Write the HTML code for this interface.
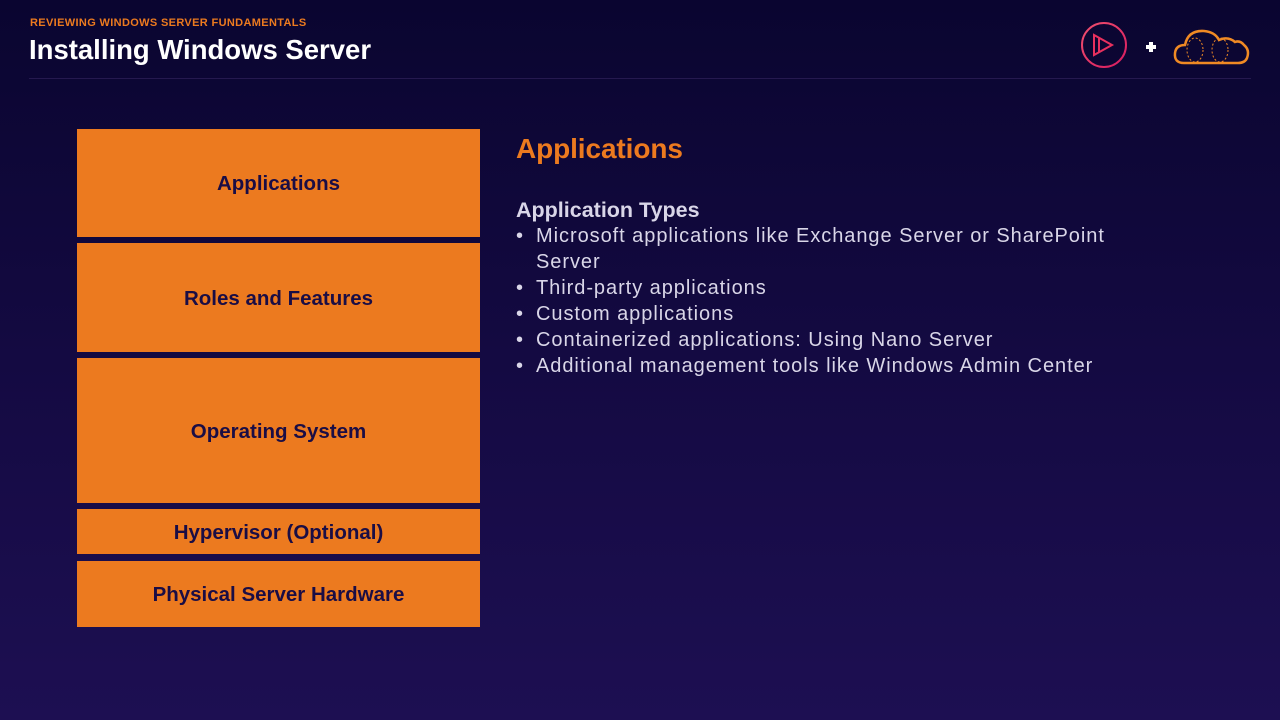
<!DOCTYPE html>
<html><head><style>
body{margin:0;width:1280px;height:720px;overflow:hidden;background:linear-gradient(180deg,#0a0530 0%,#140a42 50%,#1d0f52 100%);font-family:"Liberation Sans",sans-serif;position:relative}
.b{position:absolute;left:77px;width:403px;background:#ec7a1f;color:#1a0d45;font-weight:bold;font-size:20.5px;display:flex;align-items:center;justify-content:center;padding-top:2px;box-sizing:border-box}
.t{position:absolute;color:#d9d6e8;font-size:20px;letter-spacing:0.95px;white-space:nowrap}
</style></head><body>
<div style="position:absolute;left:30px;top:17px;color:#ec7a1f;font-size:11px;font-weight:bold;letter-spacing:0.35px">REVIEWING WINDOWS SERVER FUNDAMENTALS</div>
<div style="position:absolute;left:29px;top:34px;color:#fff;font-size:27.5px;font-weight:bold;letter-spacing:0px">Installing Windows Server</div>
<div style="position:absolute;left:29px;top:78px;width:1222px;height:1px;background:#25194f"></div>
<svg style="position:absolute;left:1078px;top:18px" width="180" height="54">
<defs><linearGradient id="g" x1="0" y1="0" x2="1" y2="1"><stop offset="0" stop-color="#f0506e"/><stop offset="1" stop-color="#d81b60"/></linearGradient></defs>
<circle cx="26" cy="27" r="22" fill="none" stroke="url(#g)" stroke-width="2"/>
<path d="M16 17 L16 37 L34 27Z M21 20 L21 34" fill="none" stroke="#e8305e" stroke-width="2"/>
<path d="M68 29h10M73 24v10" stroke="#fff" stroke-width="4"/>
<path d="M106 45 Q96 45 97 35 Q98 27 107 27 Q110 12 126 13 Q137 14 141 22 Q150 18 157 24 Q162 22 166 27 Q172 32 169 40 Q167 45 160 45Z" fill="none" stroke="#f08a24" stroke-width="2.5"/>
<ellipse cx="117" cy="32" rx="8" ry="12" fill="none" stroke="#f08a24" stroke-dasharray="2 2"/>
<ellipse cx="142" cy="32" rx="8" ry="12" fill="none" stroke="#f08a24" stroke-dasharray="2 2"/>
</svg>
<div class="b" style="top:129px;height:108px">Applications</div>
<div class="b" style="top:243px;height:109px">Roles and Features</div>
<div class="b" style="top:358px;height:145px">Operating System</div>
<div class="b" style="top:509px;height:45px">Hypervisor (Optional)</div>
<div class="b" style="top:561px;height:66px">Physical Server Hardware</div>
<div style="position:absolute;left:516px;top:133px;color:#ec7a1f;font-size:28px;font-weight:bold;letter-spacing:-0.1px">Applications</div>
<div style="position:absolute;left:516px;top:198px;color:#d9d6e8;font-size:21.5px;font-weight:bold">Application Types</div>
<div class="t" style="left:516px;top:225px">•</div><div class="t" style="left:536px;top:225px">Microsoft applications like Exchange Server or SharePoint</div>
<div class="t" style="left:536px;top:251px">Server</div>
<div class="t" style="left:516px;top:277px">•</div><div class="t" style="left:536px;top:277px">Third-party applications</div>
<div class="t" style="left:516px;top:303px">•</div><div class="t" style="left:536px;top:303px">Custom applications</div>
<div class="t" style="left:516px;top:329px">•</div><div class="t" style="left:536px;top:329px">Containerized applications: Using Nano Server</div>
<div class="t" style="left:516px;top:355px">•</div><div class="t" style="left:536px;top:355px">Additional management tools like Windows Admin Center</div>
</body></html>
